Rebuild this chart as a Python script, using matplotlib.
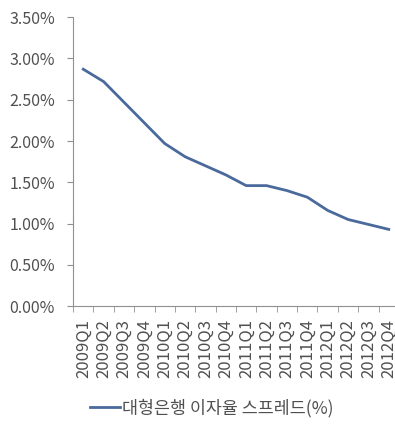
import matplotlib
matplotlib.use('Agg')
import matplotlib.pyplot as plt
import numpy as np

plt.rcParams['font.family'] = ['Noto Sans CJK KR', 'DejaVu Sans']
plt.rcParams['font.weight'] = 'light'

# 분기별 라벨과 스프레드 값 (%)
quarters = ['2009Q1', '2009Q2', '2009Q3', '2009Q4',
            '2010Q1', '2010Q2', '2010Q3', '2010Q4',
            '2011Q1', '2011Q2', '2011Q3', '2011Q4',
            '2012Q1', '2012Q2', '2012Q3', '2012Q4']
spread = [2.87, 2.72, 2.47, 2.22, 1.97, 1.81, 1.70, 1.59,
          1.46, 1.46, 1.40, 1.32, 1.16, 1.05, 0.99, 0.93]
series_name = '대형은행 이자율 스프레드(%)'
yticks = [0.0, 0.5, 1.0, 1.5, 2.0, 2.5, 3.0, 3.5]

fig = plt.figure(figsize=(3.95, 4.3), dpi=100)
ax = fig.add_axes([0.185, 0.288, 0.825, 0.672])

x = np.arange(len(quarters))
ax.plot(x, spread, color='#4a6a9c', linewidth=2, label=series_name)

ax.set_xlim(-0.5, len(quarters) - 0.5)
ax.set_ylim(0, 3.5)
ax.set_yticks(yticks)
ax.set_yticklabels(['%.2f%%' % v for v in yticks], fontsize=11.5, color='#505050')
ax.set_xticks(x)
ax.set_xticklabels(quarters, rotation=90, fontsize=12, color='#505050')
ax.set_xticks(np.arange(-0.5, len(quarters), 1), minor=True)
ax.tick_params(axis='x', which='major', length=0, pad=9)
ax.tick_params(axis='x', which='minor', length=4, color='#909090')
ax.tick_params(axis='y', length=4, color='#909090', pad=9)

for s in ['top', 'right']:
    ax.spines[s].set_visible(False)
for s in ['left', 'bottom']:
    ax.spines[s].set_color('#909090')

fig.legend(loc='center left', bbox_to_anchor=(0.206, 0.051), frameon=False,
           fontsize=12.5, handlelength=1.75, handletextpad=0.1, borderpad=0,
           labelcolor='#505050')

fig.savefig('out.png', dpi=100)
